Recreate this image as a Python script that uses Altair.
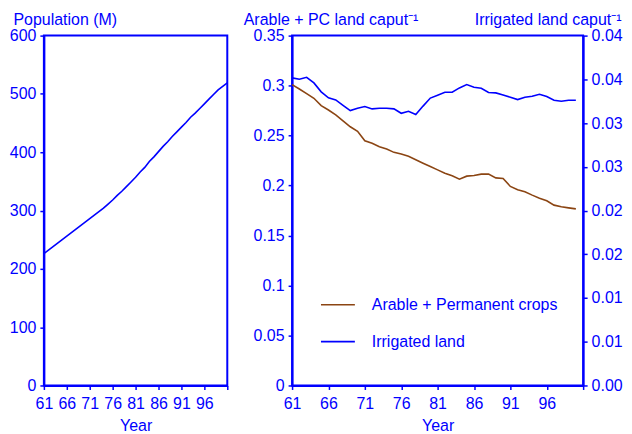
import altair as alt
import pandas as pd

# ---------------- data ----------------
pop_years = list(range(61, 102))
population = [226, 232, 238, 244, 250, 256, 262, 268, 274, 280,
              286, 292, 298, 304, 311, 318, 326, 333, 341, 349,
              357, 366, 374, 384, 392, 401, 410, 418, 427, 435,
              443, 451, 460, 467, 475, 483, 491, 499, 507, 513, 519]

land_years = list(range(61, 101))
arable_pc = [0.3009, 0.2966, 0.2919, 0.2873, 0.2799, 0.2756, 0.2708, 0.2648, 0.2588, 0.2542,
             0.2448, 0.2422, 0.2388, 0.2365, 0.2332, 0.2315, 0.2292, 0.2258, 0.2224, 0.2191,
             0.2157, 0.2124, 0.2097, 0.2064, 0.2094, 0.2101, 0.2114, 0.2114, 0.2077, 0.2071,
             0.1991, 0.1957, 0.1937, 0.1904, 0.1874, 0.1847, 0.1804, 0.1787, 0.1777, 0.1767]
irrigated = [0.03517, 0.03501, 0.03523, 0.03459, 0.03357, 0.03288, 0.03265, 0.03203, 0.03143, 0.03169,
             0.03189, 0.03162, 0.03169, 0.03169, 0.03162, 0.03112, 0.03135, 0.03097, 0.03194, 0.03286,
             0.03318, 0.03352, 0.03352, 0.03402, 0.03440, 0.03409, 0.03398, 0.03349, 0.03345, 0.03322,
             0.03295, 0.03269, 0.03295, 0.03306, 0.03329, 0.03303, 0.03261, 0.03249, 0.03261, 0.03261]

series_names = ["Arable + Permanent crops", "Irrigated land"]
x_tick_values = [61, 66, 71, 76, 81, 86, 91, 96, 101]
pop_tick_values = [0, 100, 200, 300, 400, 500, 600]
arable_tick_values = [0, 0.05, 0.1, 0.15, 0.2, 0.25, 0.3, 0.35]
irr_tick_values = [0, 0.005, 0.01, 0.015, 0.02, 0.025, 0.03, 0.035, 0.04]
irr_tick_labels = ["0.00", "0.01", "0.01", "0.02", "0.02", "0.03", "0.03", "0.04", "0.04"]

BLUE = "#0000FF"
BROWN = "#8B4513"
FONT = "Liberation Sans"
FS = 16

LEFT_W = 184
RIGHT_W = 292
GAP = 65
H = 351

pop_df = pd.DataFrame({"Year": pop_years, "Population": population})
land_df = pd.DataFrame({
    "Year": land_years * 2,
    "Value": arable_pc + irrigated,
    "Series": [series_names[0]] * len(land_years) + [series_names[1]] * len(land_years),
})


def x_axis():
    return alt.Axis(values=x_tick_values,
                    labelExpr="datum.value <= 96 ? datum.label : ''",
                    title="Year", labelFlush=False, labelOverlap=False,
                    labelPadding=6, titlePadding=6)


x_scale = alt.Scale(domain=[61, 101], nice=False, zero=False)

# ---------------- left panel ----------------
left = alt.Chart(pop_df).mark_line(color=BLUE, strokeWidth=1.6).encode(
    x=alt.X("Year:Q", scale=x_scale, axis=x_axis()),
    y=alt.Y("Population:Q", scale=alt.Scale(domain=[0, 600], nice=False),
            axis=alt.Axis(values=pop_tick_values, title="Population (M)",
                          titleAngle=0, titleAlign="left", titleBaseline="alphabetic",
                          titleX=-31, titleY=-11)),
).properties(width=LEFT_W, height=H)

# ---------------- right panel ----------------
color = alt.Color(
    "Series:N",
    scale=alt.Scale(domain=series_names, range=[BROWN, BLUE]),
    legend=alt.Legend(title=None, orient="none", legendX=LEFT_W + GAP + 28, legendY=252,
                      symbolType="stroke", symbolSize=1156, symbolStrokeWidth=1.6,
                      labelFont=FONT, labelFontSize=FS, labelColor=BLUE, labelLimit=0,
                      labelOffset=16, rowPadding=11, padding=0),
)

base = alt.Chart(land_df)
arable_line = base.transform_filter(alt.datum.Series == series_names[0]).mark_line(strokeWidth=1.6).encode(
    x=alt.X("Year:Q", scale=x_scale, axis=x_axis()),
    y=alt.Y("Value:Q", scale=alt.Scale(domain=[0, 0.35], nice=False),
            axis=alt.Axis(values=arable_tick_values, format="~g",
                          title="Arable + PC land caput⁻¹",
                          titleAngle=0, titleAlign="left", titleBaseline="alphabetic",
                          titleX=-49, titleY=-11)),
    color=color,
)
irr_expr = "[" + ",".join("'" + s + "'" for s in irr_tick_labels) + "][round(datum.value / 0.005)]"
irr_line = base.transform_filter(alt.datum.Series == series_names[1]).mark_line(strokeWidth=1.6).encode(
    x=alt.X("Year:Q", scale=x_scale, axis=x_axis()),
    y=alt.Y("Value:Q", scale=alt.Scale(domain=[0, 0.04], nice=False),
            axis=alt.Axis(orient="right", values=irr_tick_values, labelExpr=irr_expr,
                          title="Irrigated land caput⁻¹",
                          titleAngle=0, titleAlign="right", titleBaseline="alphabetic",
                          titleX=38, titleY=-11)),
    color=color,
)

right = alt.layer(arable_line, irr_line).resolve_scale(y="independent").properties(width=RIGHT_W, height=H)

chart = alt.hconcat(left, right, spacing=GAP, bounds="flush").configure_view(
    stroke=BLUE, strokeWidth=2
).configure_axis(
    domainColor=BLUE, domainWidth=2, tickColor=BLUE, tickWidth=1.5, tickSize=4,
    labelColor=BLUE, titleColor=BLUE, labelFont=FONT, titleFont=FONT,
    labelFontSize=FS, titleFontSize=FS, titleFontWeight="normal",
    labelPadding=4, titlePadding=4, grid=False,
).properties(
    padding={"left": 0, "top": 2, "right": 0, "bottom": 0},
    background="white",
)

chart.save("out.html", embed_options={"renderer": "svg", "actions": False})
